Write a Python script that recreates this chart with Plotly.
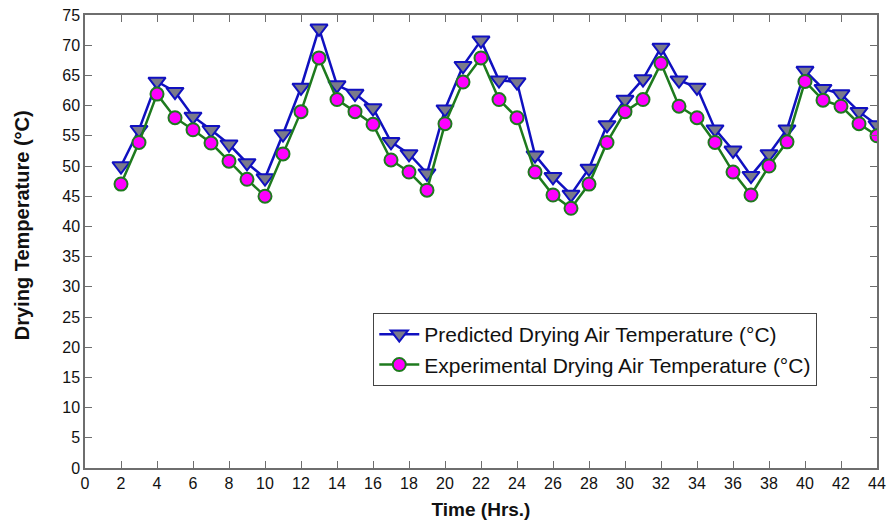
import plotly.graph_objects as go

time_hrs = list(range(2, 45))
predicted = [50, 56, 64, 62.3, 58.2, 56, 53.6, 50.5, 48, 55.3, 63, 72.8, 63.4, 62, 59.6, 54,
             52, 48.8, 59.4, 66.6, 70.8, 64.2, 63.9, 51.8, 48.2, 45.3, 49.6, 56.8, 61, 64.4,
             69.6, 64.2, 63, 56.1, 52.6, 48.4, 52, 56.1, 65.8, 62.8, 61.9, 59, 56.8]
experimental = [47, 53.9, 61.9, 58, 56, 53.8, 50.8, 47.8, 45, 52, 59, 67.9, 61, 59, 56.9, 51,
                49, 46, 57, 63.9, 67.9, 61, 58, 49, 45.2, 43, 47, 53.9, 59, 61, 67, 59.9, 58,
                53.9, 49, 45.2, 50, 54, 64, 60.9, 59.9, 57, 55]

x_ticks = list(range(0, 45, 2))
y_ticks = list(range(0, 76, 5))

font_fam = "Liberation Sans, Arial, sans-serif"

fig = go.Figure()
fig.add_trace(go.Scatter(
    x=time_hrs, y=predicted, mode="lines+markers",
    name="Predicted Drying Air Temperature (°C)",
    line=dict(color="#1010c0", width=2.5),
    marker=dict(symbol="triangle-down", size=15, color="#7a7a8a",
                line=dict(color="#1010c0", width=2)),
))
fig.add_trace(go.Scatter(
    x=time_hrs, y=experimental, mode="lines+markers",
    name="Experimental Drying Air Temperature (°C)",
    line=dict(color="#1e7a1e", width=2.5),
    marker=dict(symbol="circle", size=13, color="#ff00ff",
                line=dict(color="#1e7a1e", width=2)),
))

axis_common = dict(
    showgrid=False, zeroline=False, showline=True, linecolor="#6e6e6e", linewidth=1.5,
    mirror="ticks", ticks="inside", ticklen=7, tickcolor="#6e6e6e", tickwidth=1,
    tickfont=dict(family=font_fam, size=16, color="#111111"), automargin=False,
)

fig.update_layout(
    width=890, height=526,
    margin=dict(l=85, r=13, t=15, b=58),
    paper_bgcolor="white", plot_bgcolor="white",
    font=dict(family=font_fam, color="#111111"),
    xaxis=dict(range=[0, 44], tickvals=x_ticks,
               title=dict(text="<b>Time (Hrs.)</b>", font=dict(size=19, family=font_fam), standoff=12),
               **axis_common),
    yaxis=dict(range=[0, 75], tickvals=y_ticks, **axis_common),
    legend=dict(x=0.364, y=0.342, xanchor="left", yanchor="top",
                bgcolor="white", bordercolor="#444444", borderwidth=1,
                font=dict(size=21, family=font_fam, color="#111111"),
                itemwidth=40, tracegroupgap=0),
    showlegend=True,
    annotations=[dict(
        text="<b>Drying Temperature (°C)</b>", textangle=-90,
        xref="paper", yref="paper", x=-0.0795, y=0.536,
        xanchor="center", yanchor="middle", showarrow=False,
        font=dict(size=20, family=font_fam, color="#111111"),
    )],
)

fig.write_html("out.html")
